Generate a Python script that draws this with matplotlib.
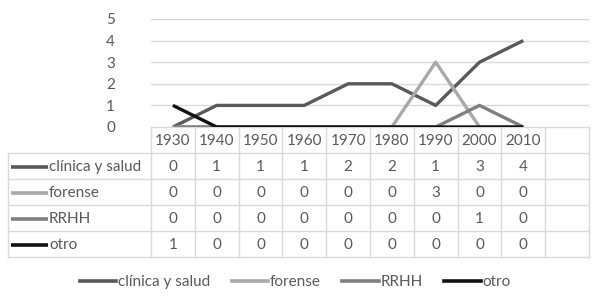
import matplotlib
matplotlib.use("Agg")
import matplotlib.pyplot as plt
from matplotlib.lines import Line2D

# ── Data ─────────────────────────────────────────────────────────────────────
decades = ["1930", "1940", "1950", "1960", "1970", "1980", "1990", "2000", "2010"]
series_names = ["clínica y salud", "forense", "RRHH", "otro"]
clinica = [0, 1, 1, 1, 2, 2, 1, 3, 4]
forense = [0, 0, 0, 0, 0, 0, 3, 0, 0]
rrhh = [0, 0, 0, 0, 0, 0, 0, 1, 0]
otro = [1, 0, 0, 0, 0, 0, 0, 0, 0]
yticks = [0, 1, 2, 3, 4, 5]

# ── Style ────────────────────────────────────────────────────────────────────
COLORS = ["#595959", "#a9a9a9", "#7f7f7f", "#111111"]
GRID = "#d9d9d9"
TEXT = "#595959"
FS = 11
plt.rcParams["font.family"] = ["Lato", "DejaVu Sans"]

W, H = 600, 301
L, R = 151, 589          # plot / table data columns, pixels
Y5, Y0 = 19, 127         # y=5 and y=0, pixels
NCOL = 10                # 9 decades + one empty column
CW = (R - L) / NCOL
ROW_TOP = [127, 153, 179, 205, 231, 257]
LEFT = 8

fig = plt.figure(figsize=(W / 100, H / 100), dpi=100)

# table / overlay axes in pixel coords
tab = fig.add_axes([0, 0, 1, 1])
tab.set_xlim(0, W)
tab.set_ylim(H, 0)
tab.axis("off")

ax = fig.add_axes([L / W, 1 - Y0 / H, (R - L) / W, (Y0 - Y5) / H])
ax.patch.set_alpha(0)
ax.set_xlim(-0.5, NCOL - 0.5)
ax.set_ylim(0, 5)
for s in ax.spines.values():
    s.set_visible(False)
ax.set_xticks([])
ax.set_yticks(yticks)
ax.set_yticklabels([str(v) for v in yticks], fontsize=FS, color=TEXT)
ax.tick_params(axis="y", length=0, pad=26)
for v in yticks[1:]:
    ax.axhline(v, color=GRID, lw=1, zorder=0)

xs = list(range(len(decades)))
all_series = [clinica, forense, rrhh, otro]
for vals, c in zip(all_series, COLORS):
    ax.plot(xs, vals, color=c, lw=2.4, solid_capstyle="butt", zorder=3)

# ── Data table ───────────────────────────────────────────────────────────────
tab.plot([L, R], [ROW_TOP[0], ROW_TOP[0]], color=GRID, lw=1)
for k in range(NCOL + 1):
    x = L + k * CW
    tab.plot([x, x], [ROW_TOP[0], ROW_TOP[-1]], color=GRID, lw=1)
for y in ROW_TOP[1:]:
    tab.plot([LEFT, R], [y, y], color=GRID, lw=1)
tab.plot([LEFT, LEFT], [ROW_TOP[1], ROW_TOP[-1]], color=GRID, lw=1)

hc = (ROW_TOP[0] + ROW_TOP[1]) / 2 + 1
for i, d in enumerate(decades):
    tab.text(L + (i + 0.5) * CW, hc, d, ha="center", va="center",
             fontsize=FS, color=TEXT)

for r, (name, vals, c) in enumerate(zip(series_names, all_series, COLORS)):
    yc = (ROW_TOP[r + 1] + ROW_TOP[r + 2]) / 2 + 1
    tab.plot([11, 48], [yc, yc], color=c, lw=2.6, solid_capstyle="butt")
    tab.text(49, yc, name, ha="left", va="center", fontsize=FS, color=TEXT)
    for i, v in enumerate(vals):
        tab.text(L + (i + 0.5) * CW, yc, str(v), ha="center", va="center",
                 fontsize=FS, color=TEXT)

# ── Legend ───────────────────────────────────────────────────────────────────
handles = [Line2D([], [], color=c, lw=2.6) for c in COLORS]
fig.legend(handles, series_names, loc="center", bbox_to_anchor=(295 / W, 1 - 282 / H),
           ncol=4, frameon=False, fontsize=FS, handlelength=2.4,
           handletextpad=0.1, columnspacing=1.4, labelcolor=TEXT)

fig.savefig("out.png", dpi=100, facecolor="white")
